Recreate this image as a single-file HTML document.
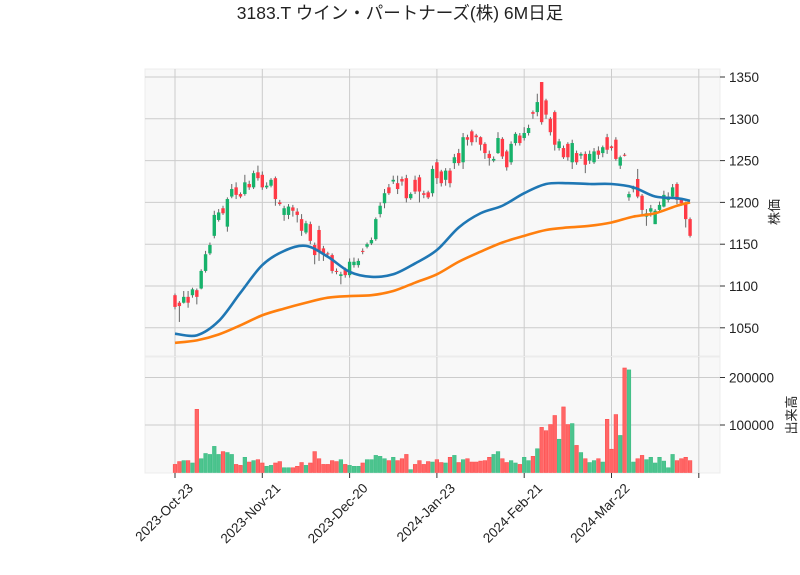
<!DOCTYPE html>
<html><head><meta charset="utf-8"><style>
body{margin:0;background:#fff;}
svg{display:block;font-family:"Liberation Sans","Noto Sans CJK JP",sans-serif;}
</style></head><body>
<svg id="chart" width="800" height="575" viewBox="0 0 800 575">
<text x="400" y="19" text-anchor="middle" font-size="17.5" fill="#222">3183.T ウイン・パートナーズ(株) 6M日足</text>
<rect x="145" y="69" width="575" height="287" fill="#f8f8f8" stroke="#ececec"/>
<rect x="145" y="357" width="575" height="116" fill="#f8f8f8" stroke="#ececec"/>
<g id="grid"></g><g id="vol"></g><g id="candles"></g><g id="ma"></g><g id="axes"></g>
<text transform="translate(779,212) rotate(-90)" text-anchor="middle" font-size="13" fill="#222">株価</text>
<text transform="translate(796,415) rotate(-90)" text-anchor="middle" font-size="13" fill="#222">出来高</text>
</svg>
<script>
const openP=[1089,1080,1080,1087,1089,1095,1097,1118,1139,1160,1179,1193,1171,1207,1218,1210,1210,1222,1218,1236,1233,1218,1220,1229,1200,1185,1185,1194,1189,1180,1164,1174,1149,1167,1145,1139,1137,1118,1112,1119,1113,1125,1125,1142,1147,1151,1156,1186,1199,1218,1225,1223,1228,1229,1205,1227,1230,1211,1212,1211,1248,1237,1227,1238,1247,1259,1248,1278,1285,1280,1278,1270,1258,1250,1259,1276,1261,1248,1271,1280,1277,1283,1308,1308,1344,1322,1300,1308,1265,1265,1270,1248,1259,1256,1258,1250,1248,1262,1259,1278,1267,1275,1244,1257,1206,1216,1228,1208,1183,1189,1174,1191,1195,1203,1207,1222,1203,1199,1180];
const closeP=[1075,1076,1087,1080,1096,1087,1118,1138,1149,1185,1188,1187,1204,1216,1209,1207,1224,1218,1235,1229,1218,1220,1227,1204,1198,1193,1195,1190,1185,1166,1175,1154,1137,1141,1139,1138,1118,1117,1114,1113,1129,1129,1130,1141,1150,1155,1180,1196,1211,1211,1227,1216,1225,1205,1210,1213,1213,1209,1206,1240,1229,1223,1238,1223,1254,1247,1278,1275,1272,1278,1269,1259,1253,1252,1277,1255,1242,1270,1282,1271,1283,1289,1306,1320,1296,1305,1284,1269,1273,1254,1254,1271,1248,1258,1245,1258,1261,1257,1266,1263,1265,1252,1254,1256,1210,1217,1207,1191,1187,1193,1190,1197,1209,1207,1218,1203,1199,1180,1160];
const highP=[1091,1082,1094,1094,1098,1097,1120,1142,1152,1190,1192,1196,1206,1222,1224,1212,1233,1226,1238,1244,1237,1224,1229,1231,1203,1196,1198,1197,1193,1186,1178,1177,1152,1172,1148,1141,1139,1121,1117,1122,1133,1134,1133,1145,1152,1158,1182,1200,1216,1222,1232,1232,1231,1233,1212,1232,1233,1214,1214,1244,1252,1239,1241,1241,1258,1264,1283,1281,1287,1282,1279,1272,1262,1255,1284,1278,1263,1273,1284,1283,1290,1293,1310,1330,1344,1324,1302,1310,1276,1268,1272,1275,1262,1260,1261,1262,1265,1267,1268,1282,1268,1278,1256,1259,1213,1220,1240,1210,1192,1197,1192,1201,1214,1212,1222,1224,1205,1201,1182];
const lowP=[1072,1057,1079,1074,1086,1078,1096,1116,1137,1157,1177,1185,1165,1205,1204,1205,1208,1215,1216,1226,1215,1216,1218,1196,1196,1178,1180,1183,1176,1160,1162,1150,1126,1130,1130,1136,1115,1114,1102,1110,1110,1122,1122,1138,1145,1149,1154,1182,1193,1209,1222,1210,1220,1200,1203,1210,1200,1205,1204,1207,1222,1219,1220,1218,1240,1244,1240,1268,1268,1272,1262,1252,1244,1248,1258,1252,1238,1245,1268,1268,1274,1280,1300,1303,1293,1300,1280,1262,1262,1252,1250,1240,1245,1252,1235,1246,1246,1252,1254,1258,1262,1250,1240,1255,1202,1212,1205,1185,1172,1183,1174,1188,1194,1200,1205,1198,1196,1170,1158];
const volumes=[17000,23000,25000,25000,20000,133000,29000,40000,38000,55000,38000,44000,42000,38000,17000,15000,32000,22000,25000,27000,20000,13000,15000,20000,23000,10000,10000,10000,13000,21000,15000,20000,44000,29000,17000,17000,25000,23000,27000,17000,15000,13000,13000,20000,27000,27000,36000,34000,29000,25000,32000,25000,29000,38000,6000,17000,25000,17000,23000,22000,27000,21000,20000,32000,36000,21000,27000,29000,22000,22000,24000,25000,32000,38000,44000,29000,21000,25000,20000,17000,32000,25000,34000,50000,95000,88000,101000,120000,70000,138000,101000,103000,57000,42000,29000,21000,25000,29000,22000,112000,49000,122000,78000,220000,216000,22000,29000,36000,27000,32000,20000,32000,24000,10000,38000,25000,29000,32000,25000];
const maIdx=[0,5,10,15,20,25,30,35,40,45,50,55,60,65,70,75,80,85,90,95,100,105,110,115,118];
const ma25=[1043,1041,1058,1092,1125,1142,1148,1135,1117,1111,1114,1127,1143,1170,1187,1196,1211,1222,1223,1222,1222,1218,1207,1205,1202];
const ma75=[1032,1035,1042,1053,1065,1073,1080,1086,1088,1089,1094,1104,1114,1129,1141,1152,1160,1167,1170,1172,1176,1183,1187,1196,1200];
const priceTicks=[1050,1100,1150,1200,1250,1300,1350];
const volTicks=[100000,200000];
const dateTickIdx=[0,20,40,60,80,100,120];
const dateTickLabels=["2023-Oct-23","2023-Nov-21","2023-Dec-20","2024-Jan-23","2024-Feb-21","2024-Mar-22",""];

const NS="http://www.w3.org/2000/svg";
const X=i=>175+i*4.365;
const PY=p=>77+(1350-p)*0.836;
const VY=v=>472.5-v*0.000475;
function mk(tag,attrs,parent){const e=document.createElementNS(NS,tag);for(const k in attrs)e.setAttribute(k,attrs[k]);parent.appendChild(e);return e;}
const grid=document.getElementById('grid'),axes=document.getElementById('axes');
priceTicks.forEach(t=>{
  const l=mk('line',{x1:145,x2:720,y1:PY(t),y2:PY(t),stroke:'#cccccc','stroke-width':1},grid);
  
  
  const tk=mk('line',{x1:720,x2:725,y1:PY(t),y2:PY(t),stroke:'#333','stroke-width':1},axes);
  
  
  const tx=mk('text',{x:729,y:PY(t)+5,'font-size':13.5,fill:'#222'},axes);tx.textContent=t;
  
  
});
volTicks.forEach(t=>{
  const l=mk('line',{x1:145,x2:720,y1:VY(t),y2:VY(t),stroke:'#cccccc','stroke-width':1},grid);
  
  
  const tk=mk('line',{x1:720,x2:725,y1:VY(t),y2:VY(t),stroke:'#333','stroke-width':1},axes);
  
  
  const tx=mk('text',{x:729,y:VY(t)+5,'font-size':13.5,fill:'#222'},axes);tx.textContent=t;
  
  
});
dateTickIdx.forEach((d,k)=>{
  const x=X(d);
  [[69,356],[357,473]].forEach(r=>{
    const l=mk('line',{x1:x,x2:x,y1:r[0],y2:r[1],stroke:'#cccccc','stroke-width':1},grid);
    
    
  });
  const tk=mk('line',{x1:x,x2:x,y1:473,y2:478,stroke:'#333','stroke-width':1},axes);
  
  
  const tx=mk('text',{transform:`translate(${x+19},489) rotate(-45)`,'text-anchor':'end','font-size':13.5,fill:'#222'},axes);
  tx.textContent=dateTickLabels[k];
  
  
});
const vg=document.getElementById('vol'),cg=document.getElementById('candles');
closeP.forEach((c,i)=>{
  const o=openP[i],up=c>=o,x=X(i);
  const b=mk('rect',{x:x-1.8,y:VY(volumes[i]),width:3.6,height:VY(0)-VY(volumes[i]),fill:up?'#4cc48e':'#ff6666',stroke:up?'#3dbd85':'#ff4d4d','stroke-width':0.6},vg);
  
  
  const w=mk('line',{x1:x,x2:x,y1:PY(highP[i]),y2:PY(lowP[i]),stroke:'#666','stroke-width':1},cg);
  
  
  const top=PY(Math.max(o,c)),h=Math.max(1,PY(Math.min(o,c))-top);
  const r=mk('rect',{x:x-1.7,y:top,width:3.4,height:h,fill:up?'#17b26b':'#ff3a46'},cg);
  
  
});
function smooth(xs,ys){
  let d=`M${xs[0]},${ys[0]}`;
  for(let i=0;i<xs.length-1;i++){
    const x0=xs[Math.max(0,i-1)],y0=ys[Math.max(0,i-1)],x1=xs[i],y1=ys[i],x2=xs[i+1],y2=ys[i+1],x3=xs[Math.min(xs.length-1,i+2)],y3=ys[Math.min(xs.length-1,i+2)];
    d+=` C${x1+(x2-x0)/6},${y1+(y2-y0)/6} ${x2-(x3-x1)/6},${y2-(y3-y1)/6} ${x2},${y2}`;
  }
  return d;
}
const mg=document.getElementById('ma');
const l75=mk('path',{d:smooth(maIdx.map(X),ma75.map(PY)),fill:'none',stroke:'#ff7f0e','stroke-width':2.6},mg);


const l25=mk('path',{d:smooth(maIdx.map(X),ma25.map(PY)),fill:'none',stroke:'#1f77b4','stroke-width':2.6},mg);


</script>
</body></html>
